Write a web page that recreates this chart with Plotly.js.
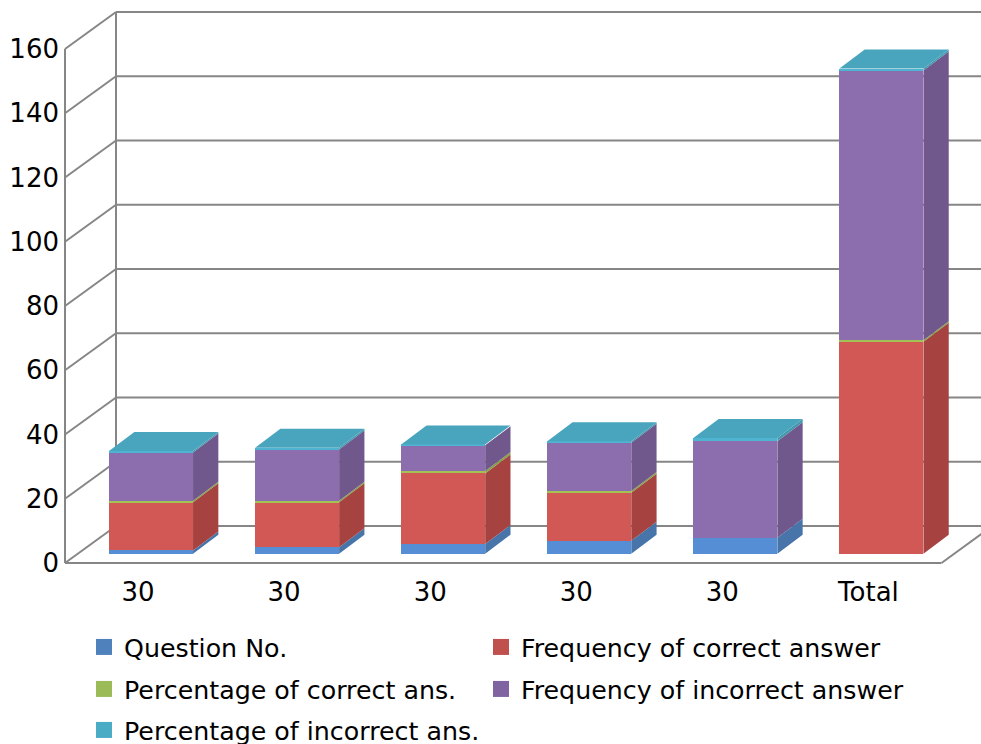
<!DOCTYPE html>
<html><head><meta charset="utf-8">
<script src="https://cdn.plot.ly/plotly-3.0.1.min.js"></script>
<style>html,body{margin:0;padding:0;background:#fff}#c{width:981px;height:744px}</style>
</head><body><div id="c"></div>
<script>
var categories = ["30","30","30","30","30","Total"];
var questionNo = [1,2,3,4,5,0];
var freqCorrect = [15,14,22,15,0,66];
var pctCorrect = [0.5,0.47,0.73,0.5,0,0.44];
var freqIncorrect = [15,16,8,15,30,84];
var pctIncorrect = [0.5,0.53,0.27,0.5,1,0.56];
var yTicks = [0,20,40,60,80,100,120,140,160];

var names = ["Question No.","Frequency of correct answer","Percentage of correct ans.","Frequency of incorrect answer","Percentage of incorrect ans."];
var seriesValues = [questionNo,freqCorrect,pctCorrect,freqIncorrect,pctIncorrect];
var legendColors = ["#4f81bd","#c0504d","#9bbb59","#8064a2","#4bacc6"];
var frontColors = ["#558ed5","#d25856","#a2c254","#8c6eaf","#4fb4d2"];
var sideColors = ["#4775aa","#a64341","#85a045","#71588c","#4497ac"];
var topColor = "#49a5bd";

var W=981,H=744, L=60, R=981, T=0, B=566;
var pxPerCat=146.08, pxPerUnit=3.2125;
var x0px=65, y0px=563;
var barShiftX=13.0, barShiftY=9.3;
var barDepthX=25.3/pxPerCat, barDepthY=19/pxPerUnit;
var wallX=51/pxPerCat, wallY=37/pxPerUnit;
var barWidth=84/pxPerCat;

var xs=categories.map(function(_,i){return i;});
var xr0=-0.5-(x0px-L)/pxPerCat, xr1=-0.5+(R-x0px)/pxPerCat;
var yr0=-(B-y0px)/pxPerUnit, yr1=(y0px-T)/pxPerUnit;

var traces=[];
var cum=xs.map(function(){return 0;});
seriesValues.forEach(function(vals,s){
  traces.push({type:"bar",x:xs,y:vals,name:names[s],xaxis:"x2",yaxis:"y2",width:barWidth,
    marker:{color:frontColors[s],line:{width:0}},showlegend:false});
  var sx=[],sy=[];
  xs.forEach(function(x,i){
    var r=x+barWidth/2,b=cum[i],t=cum[i]+vals[i];
    sx.push(r,r+barDepthX,r+barDepthX,r,r,null);
    sy.push(b,b+barDepthY,t+barDepthY,t,b,null);
    cum[i]=t;
  });
  traces.push({type:"scatter",x:sx,y:sy,mode:"lines",line:{width:0},fill:"toself",fillcolor:sideColors[s],
    xaxis:"x2",yaxis:"y2",showlegend:false,hoverinfo:"skip"});
});
var tx=[],ty=[];
xs.forEach(function(x,i){
  var l=x-barWidth/2,r=x+barWidth/2,t=cum[i];
  tx.push(l,r,r+barDepthX,l+barDepthX,l,null);
  ty.push(t,t,t+barDepthY,t+barDepthY,t,null);
});
traces.push({type:"scatter",x:tx,y:ty,mode:"lines",line:{width:0},fill:"toself",fillcolor:topColor,
  xaxis:"x2",yaxis:"y2",showlegend:false,hoverinfo:"skip"});

// legend entries
names.forEach(function(n,s){
  traces.push({type:"scatter",x:[null],y:[null],mode:"markers",name:n,
    marker:{symbol:"square",size:16,color:legendColors[s]},
    legend:s===0?"legend":"legend"+(s+1),showlegend:true,hoverinfo:"skip"});
});

var gridColor="#868686";
var shapes=[];
function seg(x1,y1,x2,y2){shapes.push({type:"line",layer:"below",xref:"x",yref:"y",x0:x1,y0:y1,x1:x2,y1:y2,line:{color:gridColor,width:2}});}
var fx=-0.5, n=categories.length;
yTicks.forEach(function(v){
  seg(fx,v,fx+wallX,v+wallY);
  seg(fx+wallX,v+wallY,xr1+1,v+wallY);
});
seg(fx,0,fx,160);
seg(fx+wallX,wallY,fx+wallX,160+wallY);
seg(fx,0,fx+n,0);
seg(fx+n,0,fx+n+wallX,wallY);

var legendPos=[[84,647],[481,647],[84,689],[481,689],[84,730]];
function leg(i){return {xref:"paper",yref:"paper",x:(legendPos[i][0]-L)/(R-L),y:(B-legendPos[i][1])/(B-T),xanchor:"left",yanchor:"middle",
  bgcolor:"rgba(0,0,0,0)",font:{family:"DejaVu Sans",size:25.3,color:"#000"},itemclick:false,itemdoubleclick:false};}

var layout={width:W,height:H,margin:{l:L,r:W-R,t:T,b:H-B,pad:0,autoexpand:false},paper_bgcolor:"#fff",plot_bgcolor:"rgba(0,0,0,0)",
  font:{family:"DejaVu Sans",size:26,color:"#000"},barmode:"stack",showlegend:true,
  xaxis:{range:[xr0,xr1],tickmode:"array",tickvals:xs,ticktext:categories,showgrid:false,zeroline:false,showline:false,ticks:"outside",ticklen:3,tickcolor:"rgba(0,0,0,0)",fixedrange:true,tickfont:{size:26}},
  yaxis:{range:[yr0,yr1],tickmode:"array",tickvals:yTicks,ticktext:yTicks.map(String),showgrid:false,zeroline:false,showline:false,ticks:"",fixedrange:true,tickfont:{size:26}},
  xaxis2:{overlaying:"x",visible:false,range:[xr0-barShiftX/pxPerCat,xr1-barShiftX/pxPerCat],fixedrange:true},
  yaxis2:{overlaying:"y",visible:false,range:[yr0-barShiftY/pxPerUnit,yr1-barShiftY/pxPerUnit],fixedrange:true},
  legend:leg(0),legend2:leg(1),legend3:leg(2),legend4:leg(3),legend5:leg(4),
  shapes:shapes};
Plotly.newPlot("c",traces,layout,{displayModeBar:false,responsive:false});
</script></body></html>
